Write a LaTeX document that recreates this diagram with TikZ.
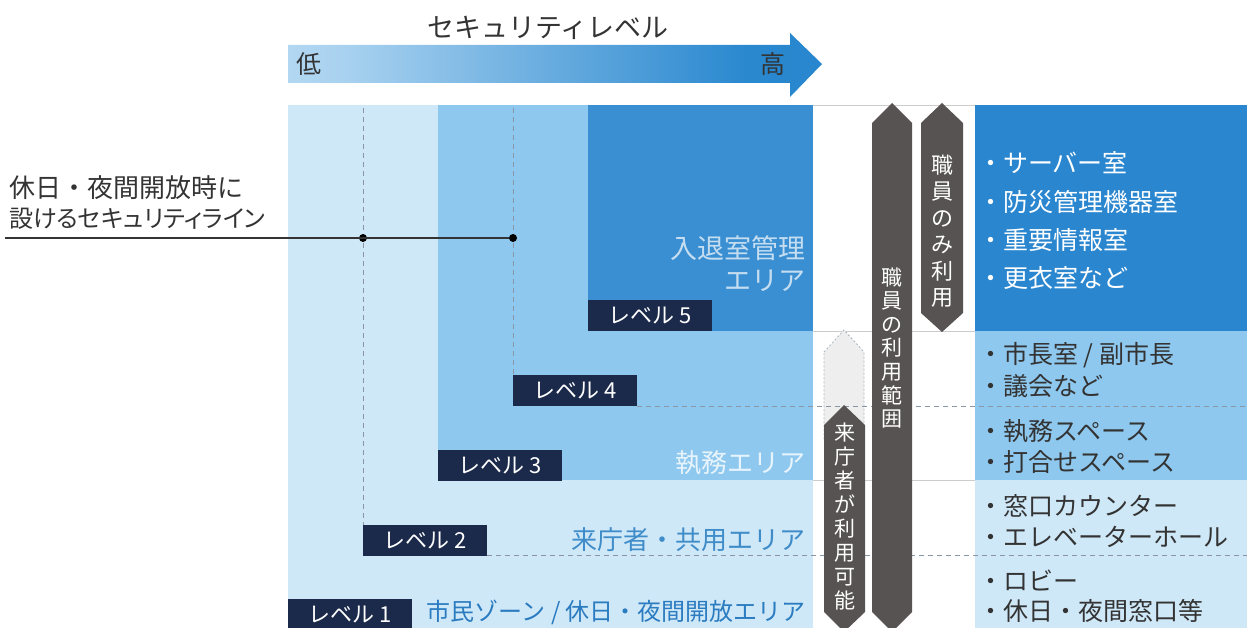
\documentclass[tikz,border=0pt]{standalone}
\usepackage{fontspec}
\setmainfont{Noto Sans CJK JP}
\newfontfamily\pfont[RawFeature=+palt]{Noto Sans CJK JP}
\definecolor{lvA}{HTML}{CFE8F8}
\definecolor{lvB}{HTML}{8EC8EE}
\definecolor{lvC}{HTML}{3A8FD2}
\definecolor{lvR}{HTML}{2A86CF}
\definecolor{navy}{HTML}{1B2A4A}
\definecolor{arrgray}{HTML}{575352}
\definecolor{ghost}{HTML}{EEEEEE}
\definecolor{dashc}{HTML}{8A96A3}
\definecolor{txtd}{HTML}{333333}
\definecolor{area2}{HTML}{3F8CC9}
\definecolor{area1}{HTML}{2A7BC0}
\definecolor{grA}{HTML}{DCEFFB}
\definecolor{grB}{HTML}{A9D2F0}
\definecolor{grC}{HTML}{2A88CF}
\definecolor{grD}{HTML}{1F80CA}
\pgfdeclarehorizontalshading{secgrad}{100bp}{color(0bp)=(grA); color(30bp)=(grB); color(68bp)=(grC); color(100bp)=(grD)}
\tikzset{
  lvbox/.style={fill=navy,text=white,font=\fontsize{22}{26}\selectfont,minimum width=124pt,minimum height=31pt,inner sep=0pt,anchor=south west},
  dashln/.style={dashc,line width=1pt,dash pattern=on 5pt off 4pt},
  thinln/.style={draw=black!20,line width=0.8pt},
  listtxt/.style={anchor=west,inner sep=0pt,font=\fontsize{25}{29}\selectfont,text=txtd},
  vtxt/.style={align=center,inner sep=0pt,text=white},
  arrowbody/.style={fill=arrgray},
  dotnode/.style={circle,fill=black,inner sep=0pt,minimum size=8pt},
}
\begin{document}
\begin{tikzpicture}[x=1pt,y=-1pt]
\useasboundingbox (0,0) rectangle (1247,628);
\clip (0,0) rectangle (1247,628);
% security level arrow
\shade[shading=secgrad] (288,45) -- (790,45) -- (790,33) -- (822,64) -- (790,97) -- (790,83) -- (288,83) -- cycle;
\node[font=\fontsize{27}{31}\selectfont,text=txtd] (title) at (548,28) {セキュリティレベル};
\node[font=\fontsize{25}{29}\selectfont,text=txtd] (low) at (309,64) {低};
\node[font=\fontsize{25}{29}\selectfont,text=txtd] (high) at (773,64) {高};
% left regions
\fill[lvA] (288,105) rectangle (813,628);
\fill[lvB] (438,105) rectangle (813,480);
\fill[lvC] (588,105) rectangle (813,331);
% right regions
\fill[lvR] (975,105) rectangle (1247,331);
\fill[lvB] (975,331) rectangle (1247,480);
\fill[lvA] (975,480) rectangle (1247,628);
% thin lines across gap
\draw[thinln] (813,105) -- (975,105);
\draw[thinln] (813,331) -- (975,331);
\draw[thinln] (813,480) -- (975,480);
% dashed lines
\coordinate (v2t) at (363,108);
\coordinate (v2b) at (363,525);
\coordinate (v4t) at (513,108);
\coordinate (v4b) at (513,375);
\draw[dashln] (v2t) -- (v2b);
\draw[dashln] (v4t) -- (v4b);
\coordinate (h4a) at (637,406);
\coordinate (h4b) at (1247,406);
\coordinate (h2a) at (487,555);
\coordinate (h2b) at (1247,555);
% ghost (visitor possible extension)
\draw[dashc!70,fill=ghost,line width=0.8pt,dash pattern=on 2pt off 2pt] (824,352) -- (844,330) -- (864,352) -- (864,440) -- (824,440) -- cycle;
\draw[dashln] (h4a) -- (h4b);
\draw[dashln] (h2a) -- (h2b);
% security line
\coordinate (s0) at (5,238);
\node[dotnode] (d1) at (363,238) {};
\node[dotnode] (d2) at (513,238) {};
\draw[black!80,line width=1.2pt] (s0) -- (d2);
\node[anchor=west,inner sep=0pt,font=\fontsize{26}{30}\selectfont,text=txtd] (secline1) at (9,188) {休日・夜間開放時に};
\node[anchor=west,inner sep=0pt,font=\pfont\fontsize{24}{28}\selectfont,text=txtd] (secline2) at (9,219) {設けるセキュリティライン};
% level boxes
\node[lvbox] (L5) at (588,331) {レベル 5};
\node[lvbox] (L4) at (513,406) {レベル 4};
\node[lvbox] (L3) at (438,481) {レベル 3};
\node[lvbox] (L2) at (363,556) {レベル 2};
\node[lvbox] (L1) at (288,630) {レベル 1};
% area labels
\node[anchor=east,inner sep=0pt,font=\fontsize{27}{32}\selectfont,text=white!70!lvC,align=right] (a5) at (806,264) {入退室管理\\エリア};
\node[anchor=east,inner sep=0pt,font=\fontsize{26}{30}\selectfont,text=white!80!lvB] (a3) at (806,463) {執務エリア};
\node[anchor=east,inner sep=0pt,font=\fontsize{26}{30}\selectfont,text=area2] (a2) at (806,540) {来庁者・共用エリア};
\node[anchor=east,inner sep=0pt,font=\fontsize{24}{28}\selectfont,text=area1] (a1) at (806,612) {市民ゾーン / 休日・夜間開放エリア};
% vertical arrows
\fill[arrowbody] (872,123) -- (892,103) -- (912,123) -- (912,612) -- (892,632) -- (872,612) -- cycle;
\fill[arrowbody] (921,123) -- (942,103) -- (963,123) -- (963,313) -- (942,332) -- (921,313) -- cycle;
\fill[arrowbody] (824,425) -- (844,405) -- (865,425) -- (865,612) -- (844,632) -- (824,612) -- cycle;
\node[vtxt,font=\fontsize{21}{23.6}\selectfont] (t1) at (892,348) {職\\員\\の\\利\\用\\範\\囲};
\node[vtxt,font=\fontsize{22}{26.5}\selectfont] (t2) at (942,231) {職\\員\\の\\み\\利\\用};
\node[vtxt,font=\fontsize{21}{24}\selectfont] (t3) at (845,517) {来\\庁\\者\\が\\利\\用\\可\\能};
% right lists
\node[listtxt,text=white] (r1) at (978,163) {・サーバー室};
\node[listtxt,text=white] (r2) at (978,202) {・防災管理機器室};
\node[listtxt,text=white] (r3) at (978,240) {・重要情報室};
\node[listtxt,text=white] (r4) at (978,278) {・更衣室など};
\node[listtxt] (r5) at (978,355) {・市長室 / 副市長};
\node[listtxt] (r6) at (978,386) {・議会など};
\node[listtxt] (r7) at (978,431) {・執務スペース};
\node[listtxt] (r8) at (978,462) {・打合せスペース};
\node[listtxt] (r9) at (978,506) {・窓口カウンター};
\node[listtxt] (r10) at (978,537) {・エレベーターホール};
\node[listtxt] (r11) at (978,580) {・ロビー};
\node[listtxt] (r12) at (978,611) {・休日・夜間窓口等};
\end{tikzpicture}
\end{document}
